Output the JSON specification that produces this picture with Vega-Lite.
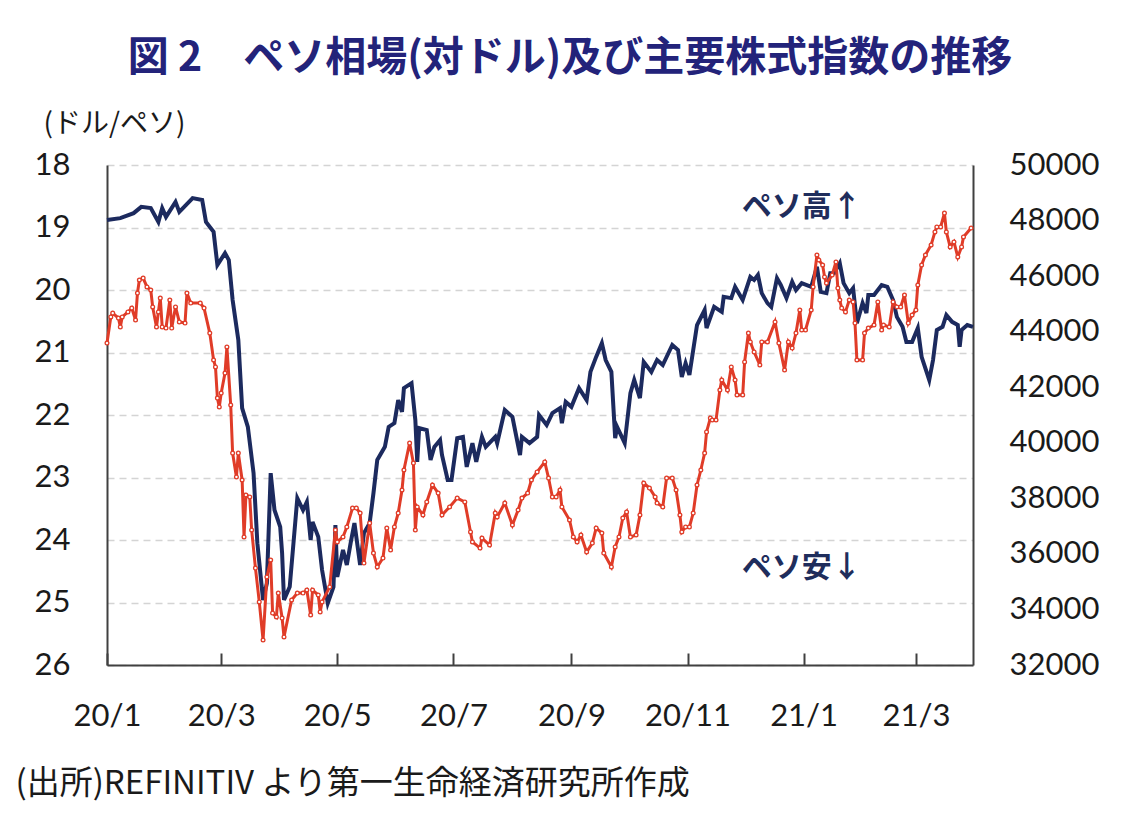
{
  "$schema": "https://vega.github.io/schema/vega-lite/v6.json",
  "width": 866,
  "height": 500,
  "autosize": {"type": "none"},
  "padding": {"left": 107, "top": 165, "right": 159, "bottom": 162},
  "background": "white",
  "title": {
    "text": "図 2　ペソ相場(対ドル)及び主要株式指数の推移",
    "font": "Noto Sans CJK JP",
    "fontSize": 41,
    "fontWeight": "bold",
    "color": "#23237A",
    "anchor": "middle",
    "dx": 30,
    "offset": 30
  },
  "datasets": {
    "peso": [
      {"date": "2020-01-01", "value": 18.88}, {"date": "2020-01-08", "value": 18.85},
      {"date": "2020-01-15", "value": 18.77}, {"date": "2020-01-19", "value": 18.67},
      {"date": "2020-01-24", "value": 18.69}, {"date": "2020-01-28", "value": 18.91},
      {"date": "2020-01-30", "value": 18.69}, {"date": "2020-02-01", "value": 18.83},
      {"date": "2020-02-06", "value": 18.59}, {"date": "2020-02-08", "value": 18.75},
      {"date": "2020-02-15", "value": 18.53}, {"date": "2020-02-20", "value": 18.56},
      {"date": "2020-02-22", "value": 18.91}, {"date": "2020-02-26", "value": 19.07},
      {"date": "2020-02-28", "value": 19.6}, {"date": "2020-03-03", "value": 19.41},
      {"date": "2020-03-05", "value": 19.52}, {"date": "2020-03-07", "value": 20.16},
      {"date": "2020-03-10", "value": 20.8}, {"date": "2020-03-12", "value": 21.89},
      {"date": "2020-03-15", "value": 22.19}, {"date": "2020-03-18", "value": 22.93},
      {"date": "2020-03-20", "value": 24.05}, {"date": "2020-03-23", "value": 24.96},
      {"date": "2020-03-25", "value": 24.69}, {"date": "2020-03-27", "value": 22.93},
      {"date": "2020-03-29", "value": 23.52}, {"date": "2020-04-01", "value": 23.79},
      {"date": "2020-04-02", "value": 24.21}, {"date": "2020-04-03", "value": 24.96},
      {"date": "2020-04-06", "value": 24.75}, {"date": "2020-04-10", "value": 23.33},
      {"date": "2020-04-13", "value": 23.52}, {"date": "2020-04-15", "value": 23.39},
      {"date": "2020-04-17", "value": 24.0}, {"date": "2020-04-18", "value": 23.71},
      {"date": "2020-04-21", "value": 23.95}, {"date": "2020-04-23", "value": 24.48},
      {"date": "2020-04-26", "value": 25.01}, {"date": "2020-04-29", "value": 24.75},
      {"date": "2020-04-30", "value": 23.76}, {"date": "2020-05-01", "value": 24.59},
      {"date": "2020-05-04", "value": 24.16}, {"date": "2020-05-06", "value": 24.4},
      {"date": "2020-05-08", "value": 24.05}, {"date": "2020-05-10", "value": 23.73},
      {"date": "2020-05-13", "value": 24.4}, {"date": "2020-05-15", "value": 23.89},
      {"date": "2020-05-18", "value": 23.73}, {"date": "2020-05-20", "value": 23.25},
      {"date": "2020-05-22", "value": 22.72}, {"date": "2020-05-26", "value": 22.51},
      {"date": "2020-05-28", "value": 22.19}, {"date": "2020-05-31", "value": 22.13},
      {"date": "2020-06-02", "value": 21.76}, {"date": "2020-06-04", "value": 21.95},
      {"date": "2020-06-05", "value": 21.57}, {"date": "2020-06-09", "value": 21.49},
      {"date": "2020-06-11", "value": 22.08}, {"date": "2020-06-12", "value": 22.75},
      {"date": "2020-06-13", "value": 22.21}, {"date": "2020-06-17", "value": 22.24},
      {"date": "2020-06-19", "value": 22.72}, {"date": "2020-06-21", "value": 22.51},
      {"date": "2020-06-24", "value": 22.4}, {"date": "2020-06-25", "value": 22.64},
      {"date": "2020-06-28", "value": 23.04}, {"date": "2020-06-30", "value": 23.04},
      {"date": "2020-07-03", "value": 22.37}, {"date": "2020-07-06", "value": 22.35},
      {"date": "2020-07-08", "value": 22.83}, {"date": "2020-07-11", "value": 22.45},
      {"date": "2020-07-13", "value": 22.75}, {"date": "2020-07-16", "value": 22.35},
      {"date": "2020-07-18", "value": 22.51}, {"date": "2020-07-23", "value": 22.35},
      {"date": "2020-07-24", "value": 22.45}, {"date": "2020-07-28", "value": 21.92},
      {"date": "2020-08-01", "value": 22.03}, {"date": "2020-08-05", "value": 22.64},
      {"date": "2020-08-06", "value": 22.35}, {"date": "2020-08-10", "value": 22.45},
      {"date": "2020-08-14", "value": 22.35}, {"date": "2020-08-15", "value": 22.0},
      {"date": "2020-08-19", "value": 22.16}, {"date": "2020-08-22", "value": 21.97},
      {"date": "2020-08-26", "value": 21.89}, {"date": "2020-08-27", "value": 22.13},
      {"date": "2020-08-29", "value": 21.79}, {"date": "2020-09-01", "value": 21.87},
      {"date": "2020-09-05", "value": 21.57}, {"date": "2020-09-09", "value": 21.76},
      {"date": "2020-09-11", "value": 21.31}, {"date": "2020-09-14", "value": 21.07},
      {"date": "2020-09-17", "value": 20.85}, {"date": "2020-09-19", "value": 21.12},
      {"date": "2020-09-22", "value": 21.31}, {"date": "2020-09-24", "value": 22.37},
      {"date": "2020-09-25", "value": 22.19}, {"date": "2020-09-29", "value": 22.45},
      {"date": "2020-10-02", "value": 21.65}, {"date": "2020-10-04", "value": 21.44},
      {"date": "2020-10-07", "value": 21.73}, {"date": "2020-10-09", "value": 21.15},
      {"date": "2020-10-13", "value": 21.31}, {"date": "2020-10-16", "value": 21.12},
      {"date": "2020-10-19", "value": 21.2}, {"date": "2020-10-24", "value": 20.88},
      {"date": "2020-10-27", "value": 20.96}, {"date": "2020-10-29", "value": 21.39},
      {"date": "2020-10-31", "value": 21.17}, {"date": "2020-11-02", "value": 21.36},
      {"date": "2020-11-06", "value": 20.56}, {"date": "2020-11-10", "value": 20.32},
      {"date": "2020-11-11", "value": 20.61}, {"date": "2020-11-15", "value": 20.27},
      {"date": "2020-11-19", "value": 20.35}, {"date": "2020-11-20", "value": 20.11},
      {"date": "2020-11-24", "value": 20.13}, {"date": "2020-11-26", "value": 19.95},
      {"date": "2020-11-30", "value": 20.16}, {"date": "2020-12-04", "value": 19.79},
      {"date": "2020-12-06", "value": 19.84}, {"date": "2020-12-08", "value": 19.76},
      {"date": "2020-12-10", "value": 20.05}, {"date": "2020-12-13", "value": 20.21},
      {"date": "2020-12-15", "value": 20.27}, {"date": "2020-12-18", "value": 19.81},
      {"date": "2020-12-20", "value": 19.92}, {"date": "2020-12-23", "value": 20.13},
      {"date": "2020-12-26", "value": 19.87}, {"date": "2020-12-28", "value": 20.0},
      {"date": "2020-12-31", "value": 19.89}, {"date": "2021-01-05", "value": 19.95},
      {"date": "2021-01-08", "value": 19.63}, {"date": "2021-01-10", "value": 20.03},
      {"date": "2021-01-13", "value": 20.05}, {"date": "2021-01-15", "value": 19.73},
      {"date": "2021-01-17", "value": 19.73}, {"date": "2021-01-20", "value": 19.57},
      {"date": "2021-01-22", "value": 19.89}, {"date": "2021-01-25", "value": 20.05},
      {"date": "2021-01-27", "value": 19.97}, {"date": "2021-01-29", "value": 20.53},
      {"date": "2021-02-01", "value": 20.21}, {"date": "2021-02-03", "value": 20.37},
      {"date": "2021-02-04", "value": 20.08}, {"date": "2021-02-07", "value": 20.08},
      {"date": "2021-02-11", "value": 19.92}, {"date": "2021-02-14", "value": 19.95},
      {"date": "2021-02-17", "value": 20.16}, {"date": "2021-02-19", "value": 20.43},
      {"date": "2021-02-22", "value": 20.59}, {"date": "2021-02-24", "value": 20.83},
      {"date": "2021-02-27", "value": 20.83}, {"date": "2021-03-02", "value": 20.61},
      {"date": "2021-03-04", "value": 21.07}, {"date": "2021-03-08", "value": 21.44},
      {"date": "2021-03-10", "value": 21.12}, {"date": "2021-03-12", "value": 20.64},
      {"date": "2021-03-15", "value": 20.59}, {"date": "2021-03-17", "value": 20.4},
      {"date": "2021-03-20", "value": 20.51}, {"date": "2021-03-23", "value": 20.56},
      {"date": "2021-03-24", "value": 20.91}, {"date": "2021-03-25", "value": 20.64},
      {"date": "2021-03-28", "value": 20.56}, {"date": "2021-03-31", "value": 20.59}
    ],
    "ipc": [
      {"date": "2020-01-01", "value": 43590}, {"date": "2020-01-03", "value": 44530},
      {"date": "2020-01-04", "value": 44670}, {"date": "2020-01-07", "value": 44490},
      {"date": "2020-01-08", "value": 44170}, {"date": "2020-01-09", "value": 44530},
      {"date": "2020-01-12", "value": 44710}, {"date": "2020-01-14", "value": 44850},
      {"date": "2020-01-16", "value": 44420}, {"date": "2020-01-17", "value": 45390},
      {"date": "2020-01-18", "value": 45860}, {"date": "2020-01-20", "value": 45930},
      {"date": "2020-01-22", "value": 45610}, {"date": "2020-01-24", "value": 45500},
      {"date": "2020-01-25", "value": 44890}, {"date": "2020-01-27", "value": 44170},
      {"date": "2020-01-28", "value": 44710}, {"date": "2020-01-29", "value": 45210},
      {"date": "2020-01-30", "value": 44170}, {"date": "2020-02-01", "value": 44130},
      {"date": "2020-02-03", "value": 45140}, {"date": "2020-02-04", "value": 44130},
      {"date": "2020-02-06", "value": 44890}, {"date": "2020-02-08", "value": 44350},
      {"date": "2020-02-11", "value": 44310}, {"date": "2020-02-12", "value": 45390},
      {"date": "2020-02-14", "value": 45030}, {"date": "2020-02-19", "value": 45030},
      {"date": "2020-02-21", "value": 44850}, {"date": "2020-02-24", "value": 43950},
      {"date": "2020-02-26", "value": 42980}, {"date": "2020-02-27", "value": 42730},
      {"date": "2020-02-28", "value": 41610}, {"date": "2020-02-29", "value": 41290},
      {"date": "2020-03-01", "value": 41790}, {"date": "2020-03-03", "value": 42510},
      {"date": "2020-03-04", "value": 43450}, {"date": "2020-03-06", "value": 41360},
      {"date": "2020-03-07", "value": 39630}, {"date": "2020-03-09", "value": 38770},
      {"date": "2020-03-10", "value": 39630}, {"date": "2020-03-12", "value": 38660},
      {"date": "2020-03-13", "value": 36610}, {"date": "2020-03-14", "value": 38120},
      {"date": "2020-03-16", "value": 38050}, {"date": "2020-03-17", "value": 36860},
      {"date": "2020-03-19", "value": 35490}, {"date": "2020-03-21", "value": 34270},
      {"date": "2020-03-23", "value": 32900}, {"date": "2020-03-25", "value": 35170},
      {"date": "2020-03-27", "value": 35780}, {"date": "2020-03-28", "value": 33870},
      {"date": "2020-03-30", "value": 33730}, {"date": "2020-03-31", "value": 34590},
      {"date": "2020-04-02", "value": 33690}, {"date": "2020-04-03", "value": 33010},
      {"date": "2020-04-07", "value": 34340}, {"date": "2020-04-10", "value": 34590},
      {"date": "2020-04-13", "value": 34590}, {"date": "2020-04-15", "value": 34700},
      {"date": "2020-04-17", "value": 33800}, {"date": "2020-04-18", "value": 34700},
      {"date": "2020-04-21", "value": 34520}, {"date": "2020-04-22", "value": 33910},
      {"date": "2020-04-23", "value": 34270}, {"date": "2020-04-27", "value": 34810},
      {"date": "2020-04-30", "value": 36860}, {"date": "2020-05-01", "value": 36430},
      {"date": "2020-05-04", "value": 36610}, {"date": "2020-05-06", "value": 36970},
      {"date": "2020-05-09", "value": 37650}, {"date": "2020-05-11", "value": 37650},
      {"date": "2020-05-13", "value": 37470}, {"date": "2020-05-15", "value": 35670},
      {"date": "2020-05-18", "value": 37110}, {"date": "2020-05-20", "value": 36030},
      {"date": "2020-05-22", "value": 35530}, {"date": "2020-05-25", "value": 35850},
      {"date": "2020-05-27", "value": 36930}, {"date": "2020-05-29", "value": 36140},
      {"date": "2020-05-31", "value": 36970}, {"date": "2020-06-02", "value": 37470},
      {"date": "2020-06-04", "value": 38300}, {"date": "2020-06-05", "value": 39020},
      {"date": "2020-06-08", "value": 39990}, {"date": "2020-06-10", "value": 39270},
      {"date": "2020-06-11", "value": 36860}, {"date": "2020-06-12", "value": 37690},
      {"date": "2020-06-15", "value": 37400}, {"date": "2020-06-17", "value": 37870},
      {"date": "2020-06-20", "value": 38480}, {"date": "2020-06-23", "value": 38190},
      {"date": "2020-06-25", "value": 37400}, {"date": "2020-06-29", "value": 37690},
      {"date": "2020-07-03", "value": 38010}, {"date": "2020-07-07", "value": 37870},
      {"date": "2020-07-10", "value": 36790}, {"date": "2020-07-11", "value": 36430},
      {"date": "2020-07-15", "value": 36210}, {"date": "2020-07-16", "value": 36570},
      {"date": "2020-07-20", "value": 36320}, {"date": "2020-07-23", "value": 37470},
      {"date": "2020-07-24", "value": 37330}, {"date": "2020-07-28", "value": 37830},
      {"date": "2020-08-01", "value": 37040}, {"date": "2020-08-04", "value": 37580},
      {"date": "2020-08-06", "value": 38010}, {"date": "2020-08-09", "value": 38190},
      {"date": "2020-08-11", "value": 38660}, {"date": "2020-08-14", "value": 38950},
      {"date": "2020-08-18", "value": 39310}, {"date": "2020-08-20", "value": 38730},
      {"date": "2020-08-22", "value": 38050}, {"date": "2020-08-24", "value": 38050},
      {"date": "2020-08-26", "value": 38300}, {"date": "2020-08-27", "value": 37690},
      {"date": "2020-08-31", "value": 37220}, {"date": "2020-09-02", "value": 36610},
      {"date": "2020-09-04", "value": 36430}, {"date": "2020-09-06", "value": 36680},
      {"date": "2020-09-09", "value": 36070}, {"date": "2020-09-12", "value": 36390},
      {"date": "2020-09-14", "value": 36930}, {"date": "2020-09-17", "value": 36750},
      {"date": "2020-09-18", "value": 36030}, {"date": "2020-09-22", "value": 35530},
      {"date": "2020-09-24", "value": 36250}, {"date": "2020-09-26", "value": 36610},
      {"date": "2020-09-28", "value": 37290}, {"date": "2020-09-30", "value": 37510},
      {"date": "2020-10-02", "value": 36610}, {"date": "2020-10-05", "value": 36680},
      {"date": "2020-10-07", "value": 37400}, {"date": "2020-10-09", "value": 38550},
      {"date": "2020-10-12", "value": 38370}, {"date": "2020-10-15", "value": 38050},
      {"date": "2020-10-16", "value": 37830}, {"date": "2020-10-19", "value": 37690},
      {"date": "2020-10-21", "value": 38730}, {"date": "2020-10-24", "value": 38730},
      {"date": "2020-10-26", "value": 38300}, {"date": "2020-10-28", "value": 37400},
      {"date": "2020-10-29", "value": 36790}, {"date": "2020-10-31", "value": 36970},
      {"date": "2020-11-02", "value": 36970}, {"date": "2020-11-04", "value": 37470},
      {"date": "2020-11-06", "value": 38480}, {"date": "2020-11-08", "value": 39020},
      {"date": "2020-11-10", "value": 39630}, {"date": "2020-11-11", "value": 40390},
      {"date": "2020-11-13", "value": 40890}, {"date": "2020-11-14", "value": 40820},
      {"date": "2020-11-16", "value": 40820}, {"date": "2020-11-18", "value": 41900},
      {"date": "2020-11-19", "value": 42260}, {"date": "2020-11-22", "value": 41900},
      {"date": "2020-11-24", "value": 42730}, {"date": "2020-11-26", "value": 42260},
      {"date": "2020-11-27", "value": 41720}, {"date": "2020-11-30", "value": 41720},
      {"date": "2020-12-01", "value": 42910}, {"date": "2020-12-03", "value": 43950},
      {"date": "2020-12-04", "value": 43630}, {"date": "2020-12-06", "value": 43270},
      {"date": "2020-12-09", "value": 42800}, {"date": "2020-12-10", "value": 43630},
      {"date": "2020-12-13", "value": 43630}, {"date": "2020-12-17", "value": 44350},
      {"date": "2020-12-19", "value": 43590}, {"date": "2020-12-22", "value": 42620},
      {"date": "2020-12-24", "value": 43630}, {"date": "2020-12-26", "value": 43410},
      {"date": "2020-12-28", "value": 43950}, {"date": "2020-12-30", "value": 44780},
      {"date": "2020-12-31", "value": 44060}, {"date": "2021-01-02", "value": 44060},
      {"date": "2021-01-05", "value": 44780}, {"date": "2021-01-06", "value": 45610},
      {"date": "2021-01-08", "value": 46760}, {"date": "2021-01-09", "value": 46580},
      {"date": "2021-01-11", "value": 46400}, {"date": "2021-01-12", "value": 45970},
      {"date": "2021-01-13", "value": 45750}, {"date": "2021-01-16", "value": 46040},
      {"date": "2021-01-18", "value": 46510}, {"date": "2021-01-19", "value": 45570},
      {"date": "2021-01-20", "value": 45140}, {"date": "2021-01-21", "value": 44850},
      {"date": "2021-01-23", "value": 44710}, {"date": "2021-01-25", "value": 45140},
      {"date": "2021-01-27", "value": 45070}, {"date": "2021-01-28", "value": 44310},
      {"date": "2021-01-29", "value": 42980}, {"date": "2021-02-01", "value": 42980},
      {"date": "2021-02-02", "value": 43950}, {"date": "2021-02-04", "value": 44130},
      {"date": "2021-02-07", "value": 44240}, {"date": "2021-02-09", "value": 45070},
      {"date": "2021-02-11", "value": 44060}, {"date": "2021-02-12", "value": 44240},
      {"date": "2021-02-15", "value": 44170}, {"date": "2021-02-17", "value": 45070},
      {"date": "2021-02-19", "value": 44890}, {"date": "2021-02-21", "value": 44890},
      {"date": "2021-02-23", "value": 45320}, {"date": "2021-02-25", "value": 44310},
      {"date": "2021-02-27", "value": 44600}, {"date": "2021-03-01", "value": 44780},
      {"date": "2021-03-02", "value": 45680}, {"date": "2021-03-04", "value": 46400},
      {"date": "2021-03-06", "value": 46760}, {"date": "2021-03-09", "value": 47120},
      {"date": "2021-03-11", "value": 47590}, {"date": "2021-03-12", "value": 47770},
      {"date": "2021-03-14", "value": 47770}, {"date": "2021-03-16", "value": 48270},
      {"date": "2021-03-17", "value": 47590}, {"date": "2021-03-19", "value": 47050},
      {"date": "2021-03-21", "value": 47230}, {"date": "2021-03-23", "value": 46690},
      {"date": "2021-03-25", "value": 47050}, {"date": "2021-03-26", "value": 47410},
      {"date": "2021-03-30", "value": 47730}
    ],
    "notes": [
      {"date": "2020-12-31", "value": 18.67, "label": "ペソ高↑"},
      {"date": "2020-12-31", "value": 24.45, "label": "ペソ安↓"}
    ]
  },
  "config": {
    "view": {"stroke": null},
    "axis": {
      "labelFont": "Lato",
      "labelFontSize": 31,
      "labelColor": "#1a1a1a",
      "domainColor": "#404040",
      "domainWidth": 2,
      "tickColor": "#404040",
      "titleFont": "Noto Sans CJK JP",
      "titleFontWeight": "normal",
      "titleColor": "#1a1a1a"
    }
  },
  "layer": [
    {
      "layer": [
        {
          "data": {"name": "peso"},
          "mark": {"type": "line", "color": "#1C2A5E", "strokeWidth": 4},
          "encoding": {
            "x": {
              "field": "date",
              "type": "temporal",
              "scale": {"type": "utc", "domain": ["2020-01-01", "2021-03-31"]},
              "axis": {
                "format": "%y/%-m",
                "tickCount": {"interval": "month", "step": 2},
                "labelFlush": false,
                "labelOverlap": false,
                "tickSize": -12,
                "tickWidth": 2,
                "labelPadding": 48,
                "labelBaseline": "top",
                "grid": false,
                "title": "(出所)REFINITIV より第一生命経済研究所作成",
                "titleFontSize": 33,
                "titleAlign": "left",
                "titleAnchor": "start",
                "titleBaseline": "middle",
                "titleX": -92,
                "titleY": 118
              }
            },
            "y": {
              "field": "value",
              "type": "quantitative",
              "scale": {"domain": [18, 26], "reverse": true, "nice": false, "zero": false},
              "axis": {
                "values": [18, 19, 20, 21, 22, 23, 24, 25, 26],
                "format": "d",
                "ticks": false,
                "labelPadding": 37,
                "grid": true,
                "gridColor": "#d4d4d4",
                "gridDash": [7, 5],
                "gridWidth": 1.5,
                "title": "(ドル/ペソ)",
                "titleFontSize": 28,
                "titleAngle": 0,
                "titleAlign": "left",
                "titleBaseline": "middle",
                "titleX": -64,
                "titleY": -41
              }
            }
          }
        },
        {
          "data": {"name": "notes"},
          "mark": {
            "type": "text",
            "font": "Noto Sans CJK JP",
            "fontSize": 30,
            "fontWeight": "bold",
            "color": "#1F2D5C",
            "align": "center",
            "baseline": "middle"
          },
          "encoding": {
            "x": {"field": "date", "type": "temporal"},
            "y": {"field": "value", "type": "quantitative"},
            "text": {"field": "label"}
          }
        }
      ]
    },
    {
      "data": {"name": "ipc"},
      "mark": {
        "type": "line",
        "color": "#E03C28",
        "strokeWidth": 3,
        "point": {"filled": true, "fill": "white", "stroke": "#E03C28", "strokeWidth": 1.3, "size": 14}
      },
      "encoding": {
        "x": {"field": "date", "type": "temporal"},
        "y": {
          "field": "value",
          "type": "quantitative",
          "scale": {"domain": [32000, 50000], "nice": false, "zero": false},
          "axis": {
            "orient": "right",
            "values": [32000, 34000, 36000, 38000, 40000, 42000, 44000, 46000, 48000, 50000],
            "format": "d",
            "ticks": false,
            "grid": false,
            "labelPadding": 36,
            "title": null
          }
        }
      }
    }
  ],
  "resolve": {"scale": {"y": "independent"}}
}
